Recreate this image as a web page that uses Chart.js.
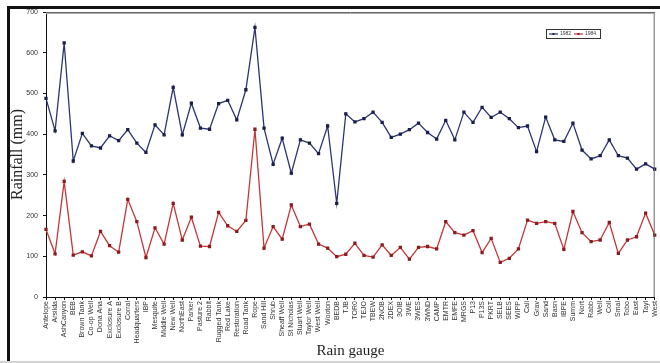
<!DOCTYPE html>
<html>
<head>
<meta charset="utf-8">
<title>Rainfall by rain gauge</title>
<script src="https://cdn.jsdelivr.net/npm/chart.js@4/dist/chart.umd.min.js"></script>
<style>
  html, body { margin: 0; padding: 0; background: #fff; }
  #wrap { position: relative; width: 660px; height: 363px; }
  canvas { display: block; }
</style>
</head>
<body>
<div id="wrap"><canvas id="chart" width="660" height="363"></canvas></div>
<script>
// Rain gauge names along the x axis
const gauges = [
  "Antelope", "Arsilda", "AshCanyon", "BEB", "Brown Tank", "Co-op Well", "Dona Ana",
  "Exclosure A", "Exclosure B", "Corral", "Headquarters", "IBP", "Mesquite", "Middle Well",
  "New Well", "NorthEast", "Parker", "Pasture 2", "Rabbit", "Rugged Tank", "Red Lake",
  "Restoration", "Road Tank", "Rope", "Sand Hill", "Shrub", "Sheaff Well", "St Nicholas",
  "Stuart Well", "Taylor Well", "West Well", "Wooton", "BEDB", "TJB", "TOR0", "TEJO",
  "TBEW", "2NOB", "2DEX", "3OIB", "3WE", "3WES", "3WND", "CAMP", "EMTR", "EMFE",
  "MRGS", "P13", "P13S", "PKRT", "SELB", "SEES", "WIPP", "Cali", "Grav", "Sand", "Basn",
  "IBPE", "Summ", "Nort", "Rabb", "Well", "Coll", "Smal", "Tobo", "East", "Tayl", "West"
];

// Annual rainfall (mm), first year
const rain1982 = [
  488, 408, 624, 334, 402, 371, 366, 396, 384, 411, 378, 355, 423, 398, 515, 398, 476,
  415, 412, 475, 483, 435, 509, 662, 415, 326, 390, 304, 386, 378, 352, 420, 230, 450,
  430, 438, 454, 429, 392, 400, 411, 427, 404, 388, 434, 386, 454, 429, 466, 441, 454,
  438, 416, 420, 357, 442, 386, 382, 427, 361, 339, 347, 386, 347, 341, 314, 327, 314
];

// Annual rainfall (mm), second year
const rain1984 = [
  166, 106, 284, 103, 111, 101, 161, 126, 110, 240, 185, 97, 170, 130, 230, 140, 196,
  125, 124, 208, 175, 161, 188, 412, 120, 173, 142, 226, 173, 179, 130, 120, 99, 105,
  132, 102, 98, 128, 102, 122, 93, 122, 124, 118, 185, 158, 152, 163, 109, 144, 85,
  95, 118, 189, 181, 185, 181, 117, 210, 158, 136, 140, 183, 107, 140, 148, 206, 152
];

const yTicks = [0, 100, 200, 300, 400, 500, 600, 700];

const BLUE = "#2c3473";
const BLUE_PT = "#1b1f4a";
const RED = "#c4363a";
const RED_PT = "#8a1c1f";

// Page frame and plot-area box
const framePlugin = {
  id: "frame",
  beforeDraw(chart) {
    const ctx = chart.ctx;
    ctx.save();
    ctx.fillStyle = "#fff";
    ctx.fillRect(0, 0, chart.width, chart.height);
    // heavy frame lines along the top and the left
    ctx.fillStyle = "#111";
    ctx.fillRect(7, 6, chart.width - 7, 3);
    ctx.fillRect(7, 6, 3, chart.height - 8);
    // pale strip along the bottom edge
    ctx.fillStyle = "#d4d4d4";
    ctx.fillRect(0, chart.height - 2, chart.width, 2);
    ctx.restore();
  },
  afterDatasetsDraw(chart) {
    const a = chart.chartArea;
    const ctx = chart.ctx;
    ctx.save();
    ctx.strokeStyle = "#666";
    ctx.lineWidth = 1;
    ctx.beginPath();
    ctx.moveTo(a.left, a.top + 0.5);
    ctx.lineTo(a.right, a.top + 0.5);
    ctx.moveTo(a.right - 0.5, a.top);
    ctx.lineTo(a.right - 0.5, a.bottom);
    ctx.stroke();
    ctx.strokeStyle = "#aaa";
    ctx.beginPath();
    ctx.moveTo(a.left, a.top + 1.5);
    ctx.lineTo(a.right, a.top + 1.5);
    ctx.stroke();
    ctx.restore();
  }
};

// Small boxed legend in the upper right of the plot
const legendBoxPlugin = {
  id: "legendBox",
  afterDraw(chart) {
    const ctx = chart.ctx;
    const x0 = 546, y0 = 29, w = 54, h = 9;
    ctx.save();
    ctx.fillStyle = "#fff";
    ctx.fillRect(x0, y0, w, h);
    ctx.strokeStyle = "#333";
    ctx.lineWidth = 1;
    ctx.strokeRect(x0 + 0.5, y0 + 0.5, w, h);
    ctx.font = "5px 'Liberation Sans', Arial, sans-serif";
    ctx.textBaseline = "middle";
    const cy = y0 + h / 2 + 0.5;
    let x = x0 + 3;
    chart.data.datasets.forEach((ds) => {
      ctx.strokeStyle = ds.borderColor;
      ctx.lineWidth = 1.2;
      ctx.beginPath();
      ctx.moveTo(x, cy);
      ctx.lineTo(x + 9, cy);
      ctx.stroke();
      ctx.fillStyle = ds.pointBackgroundColor;
      ctx.fillRect(x + 3.5, cy - 1, 2, 2);
      ctx.fillStyle = "#333";
      ctx.fillText(ds.label, x + 11, cy);
      x += 25;
    });
    ctx.restore();
  }
};

new Chart(document.getElementById("chart"), {
  type: "line",
  data: {
    labels: gauges,
    datasets: [
      {
        label: "1982",
        data: rain1982,
        borderColor: BLUE,
        backgroundColor: BLUE,
        pointBackgroundColor: BLUE_PT,
        pointBorderColor: BLUE_PT,
        borderWidth: 1.3,
        pointRadius: 1.4,
        pointStyle: "rect",
        tension: 0
      },
      {
        label: "1984",
        data: rain1984,
        borderColor: RED,
        backgroundColor: RED,
        pointBackgroundColor: RED_PT,
        pointBorderColor: RED_PT,
        borderWidth: 1.3,
        pointRadius: 1.4,
        pointStyle: "rect",
        tension: 0
      }
    ]
  },
  options: {
    responsive: false,
    animation: false,
    devicePixelRatio: 1,
    layout: { padding: { left: 0, right: 3, top: 12, bottom: 0 } },
    plugins: {
      legend: { display: false },
      tooltip: { enabled: false }
    },
    scales: {
      x: {
        type: "category",
        offset: false,
        border: { display: true, color: "#111", width: 1 },
        grid: { drawOnChartArea: false, drawTicks: true, tickLength: 3, color: "#111" },
        ticks: {
          autoSkip: false,
          minRotation: 90,
          maxRotation: 90,
          padding: 1,
          color: "#333",
          font: { family: "'Liberation Sans', Arial, sans-serif", size: 7 }
        },
        title: {
          display: true,
          text: "Rain gauge",
          color: "#222",
          padding: { top: 0, bottom: 3 },
          font: { family: "'Liberation Serif', 'Times New Roman', serif", size: 15 }
        },
        afterFit(scale) {
          scale.height = 66;
          scale.paddingLeft = 0;
          scale.paddingRight = 0;
        }
      },
      y: {
        min: 0,
        max: 700,
        border: { display: true, color: "#111", width: 1 },
        grid: { drawOnChartArea: false, drawTicks: true, tickLength: 3, color: "#111" },
        afterBuildTicks(scale) {
          scale.ticks = yTicks.map((v) => ({ value: v }));
        },
        ticks: {
          padding: 5,
          color: "#333",
          font: { family: "'Liberation Sans', Arial, sans-serif", size: 7 }
        },
        title: {
          display: true,
          text: "Rainfall (mm)",
          color: "#222",
          padding: { top: 8, bottom: 0 },
          font: { family: "'Liberation Serif', 'Times New Roman', serif", size: 16 }
        },
        afterFit(scale) {
          scale.width = 46;
          scale.paddingTop = 0;
          scale.paddingBottom = 0;
        }
      }
    }
  },
  plugins: [framePlugin, legendBoxPlugin]
});
</script>
</body>
</html>
